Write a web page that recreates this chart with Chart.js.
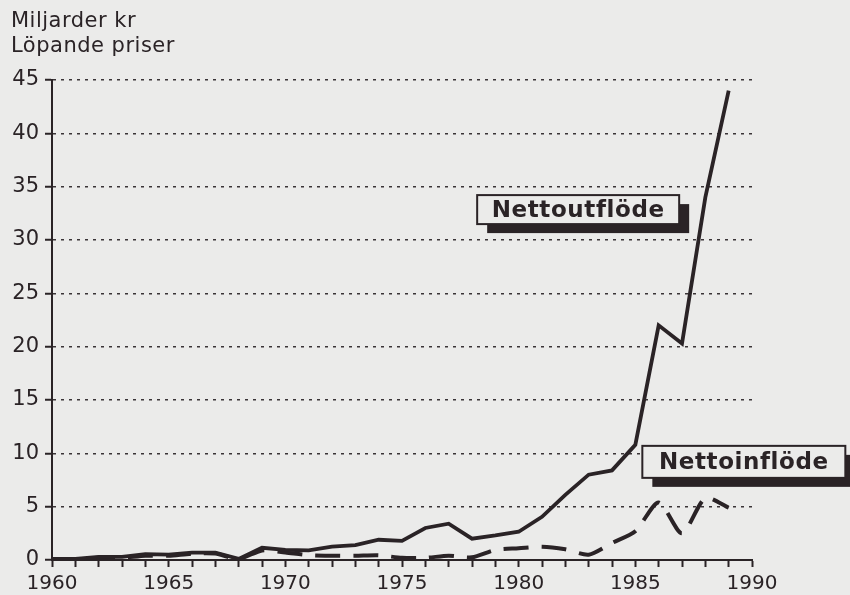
<!DOCTYPE html>
<html>
<head>
<meta charset="utf-8">
<script src="https://cdn.jsdelivr.net/npm/chart.js@4"></script>
<style>
  html, body { margin: 0; padding: 0; background: #ebebea; }
  canvas { display: block; }
</style>
</head>
<body>
<canvas id="c" width="850" height="595"></canvas>
<script>
// ---- data ----
const years = [1960,1961,1962,1963,1964,1965,1966,1967,1968,1969,1970,1971,1972,1973,1974,1975,1976,1977,1978,1979,1980,1981,1982,1983,1984,1985,1986,1987,1988,1989];
const nettoutflode = [0.0,0.1,0.3,0.3,0.55,0.5,0.7,0.7,0.1,1.15,0.95,0.9,1.25,1.4,1.9,1.8,3.0,3.4,2.0,2.3,2.65,4.05,6.1,8.0,8.4,10.8,22.0,20.3,34.0,44.0];
const nettoinflode = [0.1,0.1,0.2,0.2,0.4,0.4,0.6,0.6,0.1,0.9,0.7,0.45,0.4,0.4,0.45,0.2,0.2,0.4,0.25,0.95,1.1,1.25,1.0,0.5,1.6,2.7,5.4,2.5,5.8,4.9];
const yTicks = [0,5,10,15,20,25,30,35,40,45];
const xLabelYears = [1960,1965,1970,1975,1980,1985,1990];
const titleLines = ['Miljarder kr', 'Löpande priser'];
const seriesLabels = ['Nettoutflöde', 'Nettoinflöde'];
// label anchors in data units (centre year, centre value)
const labelAnchors = [
  {text: 'Nettoutflöde', x: 1982.55, y: 32.85, w: 202, h: 29},
  {text: 'Nettoinflöde', x: 1989.65, y: 9.2, w: 203, h: 32}
];

const INK = '#2a2326';
const BG = '#ebebea';
const FONT = "'DejaVu Sans', sans-serif";

const toXY = (vals) => years.map((y, i) => ({x: y, y: vals[i]}));

const decorPlugin = {
  id: 'decor',
  afterDraw(chart) {
    const ctx = chart.ctx;
    const xs = chart.scales.x, ys = chart.scales.y;
    ctx.save();
    // titles
    ctx.fillStyle = INK;
    ctx.font = '21px ' + FONT;
    if ('letterSpacing' in ctx) ctx.letterSpacing = '0.5px';
    ctx.textAlign = 'left';
    ctx.textBaseline = 'middle';
    ctx.fillText(titleLines[0], 11, 22);
    ctx.fillText(titleLines[1], 11, 47);
    // series label boxes
    labelAnchors.forEach(a => {
      const cx = xs.getPixelForValue(a.x);
      const cy = ys.getPixelForValue(a.y);
      const l = cx - a.w / 2, t = cy - a.h / 2;
      ctx.fillStyle = INK;
      ctx.fillRect(l + 10, t + 9, a.w, a.h);
      ctx.fillStyle = BG;
      ctx.fillRect(l, t, a.w, a.h);
      ctx.lineWidth = 2;
      ctx.strokeStyle = INK;
      ctx.strokeRect(l, t, a.w, a.h);
      ctx.fillStyle = INK;
      ctx.font = 'bold 23px ' + FONT;
      if ('letterSpacing' in ctx) ctx.letterSpacing = '0.6px';
      ctx.textAlign = 'center';
      ctx.textBaseline = 'middle';
      ctx.fillText(a.text, cx, cy + 1);
    });
    ctx.restore();
  }
};

new Chart(document.getElementById('c'), {
  type: 'line',
  data: {
    datasets: [
      {
        label: seriesLabels[0],
        data: toXY(nettoutflode),
        borderColor: INK,
        borderWidth: 3.8,
        pointRadius: 0,
        tension: 0,
        fill: false
      },
      {
        label: seriesLabels[1],
        data: toXY(nettoinflode),
        borderColor: INK,
        borderWidth: 4,
        borderDash: [25, 13],
        pointRadius: 0,
        tension: 0.25,
        fill: false
      }
    ]
  },
  plugins: [decorPlugin],
  options: {
    responsive: false,
    animation: false,
    layout: { padding: { left: 0, top: 80, right: 98, bottom: 0 } },
    plugins: { legend: { display: false }, tooltip: { enabled: false } },
    scales: {
      x: {
        type: 'linear',
        min: 1960,
        max: 1990,
        afterFit(s) { s.height = 35; },
        ticks: {
          stepSize: 1,
          autoSkip: false,
          maxRotation: 0,
          color: INK,
          font: { family: FONT, size: 20 },
          padding: 5,
          callback: (v) => xLabelYears.includes(v) ? String(v) : ''
        },
        grid: {
          drawOnChartArea: false,
          drawTicks: true,
          tickLength: 7,
          tickColor: INK,
          tickWidth: 2
        },
        border: { display: true, color: INK, width: 2 }
      },
      y: {
        min: 0,
        max: 45,
        afterFit(s) { s.width = 52; },
        afterBuildTicks(s) { s.ticks = yTicks.map(v => ({value: v})); },
        ticks: {
          color: INK,
          font: { family: FONT, size: 21 },
          padding: 6,
          callback: (v) => String(v)
        },
        grid: {
          color: (c) => c.tick && c.tick.value === 0 ? 'rgba(0,0,0,0)' : '#3a3437',
          lineWidth: 1.5,
          drawTicks: true,
          tickLength: 7,
          tickColor: INK,
          tickWidth: 2,
          tickBorderDash: []
        },
        border: { display: true, color: INK, width: 2, dash: [3, 5] }
      }
    }
  }
});
</script>
</body>
</html>
